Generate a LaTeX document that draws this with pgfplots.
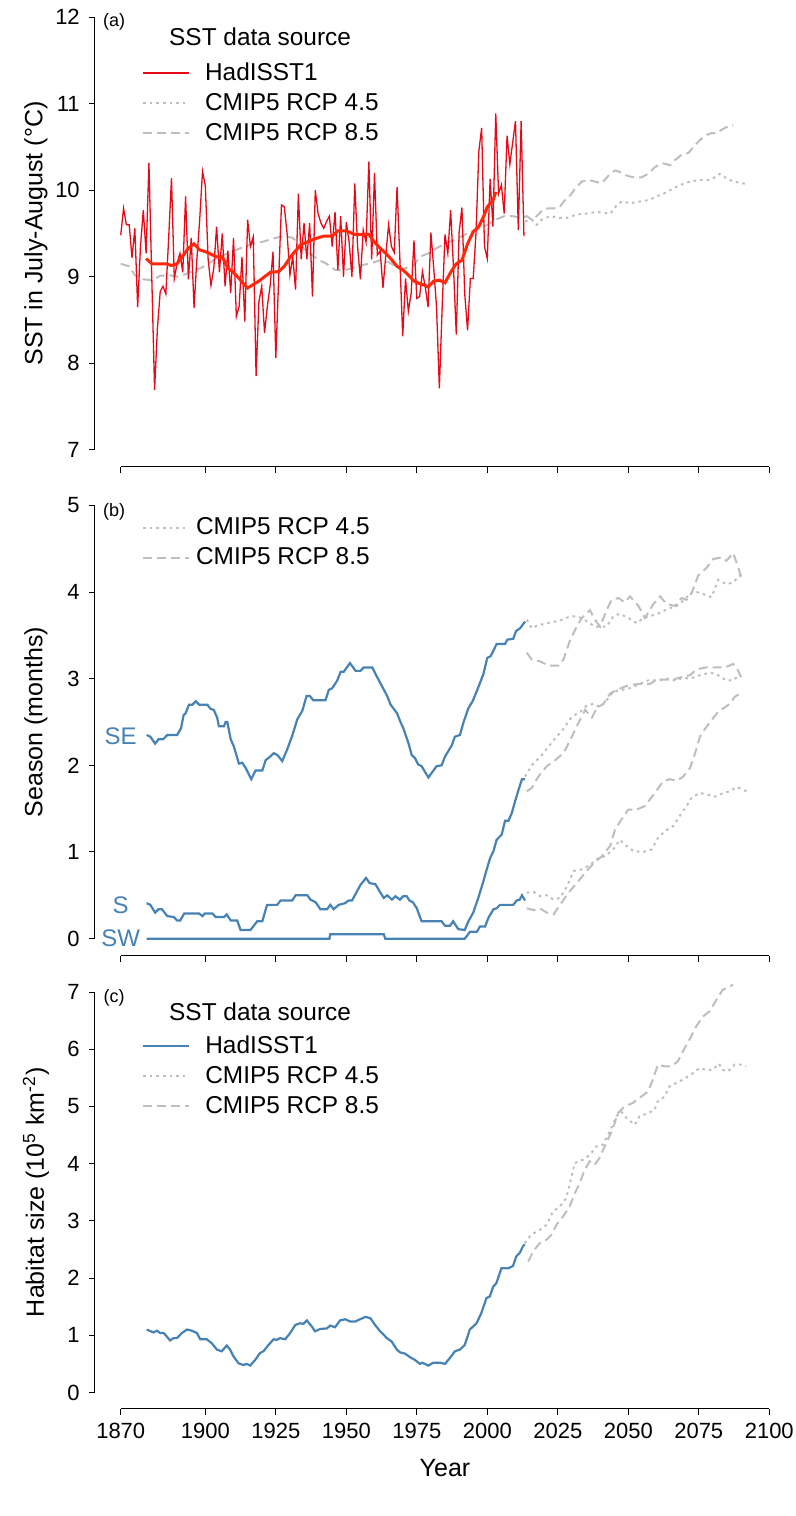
\documentclass[border=0pt]{standalone}
\usepackage{fontspec}
\setmainfont{Liberation Sans}
\usepackage{pgfplots}
\pgfplotsset{compat=1.18}

\definecolor{hadred}{RGB}{230,10,25}
\definecolor{smred}{RGB}{255,40,10}
\definecolor{sblue}{RGB}{70,130,180}
\definecolor{lgray}{RGB}{190,190,190}

\pgfplotsset{
  panel/.style={
    scale only axis, width=350.2pt,
    xmin=1860.8, xmax=2109.2,
    axis x line*=bottom, axis y line*=left,
    axis line style={draw=none},
    clip=false,
    tick align=outside, major tick length=3pt,
    tick style={black, line width=0.5pt},
    xtick={1870,1900,1925,1950,1975,2000,2025,2050,2075,2100},
    ticklabel style={font=\fontsize{11}{13}\selectfont},
    xticklabel style={yshift=-1pt},
    yticklabel style={xshift=-1pt},
    /pgf/number format/assume math mode=true,
    /pgf/number format/1000 sep={},
    label style={font=\fontsize{12.5}{15}\selectfont},
    ylabel style={at={(axis description cs:-0.084,0.5)}, anchor=center},
    legend cell align=left,
    legend image code/.code={\draw[##1] (0pt,0pt) -- (23pt,0pt);},
    legend style={draw=none, fill=none, inner sep=0pt, row sep=1pt,
      font=\fontsize{12.2}{14}\selectfont},
  },
  rcpA/.style={lgray, line width=1pt, dash pattern=on 1.3pt off 2pt},
  rcpB/.style={lgray, line width=1pt, dash pattern=on 4.5pt off 2.5pt},
  obs/.style={sblue, line width=1.1pt},
}

\begin{document}
\begin{tikzpicture}
\useasboundingbox (0,0) rectangle (398pt,758pt);

% ---------------- (a) SST ----------------
\begin{axis}[panel, at={(47.4pt,524.5pt)}, anchor=south west,
  height=233.5pt, ymin=6.8, ymax=12.2, ytick={7,8,9,10,11,12},
  xticklabels={},
  ylabel={SST in July-August (°C)},
  legend style={at={(axis description cs:0.067,0.78)}, anchor=west,
    /tikz/every odd column/.append style={column sep=5.5pt}},
]
\addlegendimage{hadred, line width=1pt}\addlegendentry{HadISST1}
\addlegendimage{rcpA}\addlegendentry{CMIP5 RCP 4.5}
\addlegendimage{rcpB}\addlegendentry{CMIP5 RCP 8.5}

\addplot[rcpB, forget plot] coordinates {
(1870,9.15)(1873,9.12)(1875,9.02)(1878,8.97)(1881,8.96)(1884,9.01)(1887,9.02)
(1890,9.00)(1893,9.03)(1896,9.07)(1899,9.11)(1902,9.17)(1905,9.23)(1908,9.27)
(1911,9.31)(1914,9.35)(1917,9.38)(1921,9.41)(1925,9.45)(1928,9.47)(1931,9.45)
(1934,9.35)(1937,9.27)(1940,9.20)(1943,9.15)(1946,9.08)(1949,9.07)(1952,9.10)
(1955,9.13)(1958,9.15)(1962,9.19)(1965,9.17)(1968,9.11)(1970,9.09)(1974,9.13)
(1976,9.23)(1979,9.27)(1982,9.33)(1985,9.38)(1988,9.42)(1991,9.47)(1994,9.52)
(1997,9.55)(2000,9.60)(2003,9.66)(2006,9.70)(2009,9.70)(2012,9.68)(2014,9.70)
(2015.8,9.66)(2017.5,9.70)(2019.9,9.78)(2021.7,9.79)(2023.5,9.79)(2025.8,9.81)
(2027.6,9.89)(2029.4,9.94)(2031.2,10.02)(2033.5,10.10)(2035.9,10.12)(2038.2,10.10)
(2040.6,10.08)(2043,10.17)(2045.3,10.23)(2047.1,10.21)(2049.4,10.17)(2051.8,10.15)
(2054.7,10.15)(2057.1,10.19)(2059.5,10.27)(2062.4,10.31)(2064.8,10.29)(2066.6,10.35)
(2068.9,10.41)(2071.3,10.43)(2073.1,10.50)(2075.4,10.58)(2077.8,10.64)(2079.5,10.66)
(2081.3,10.66)(2083.1,10.70)(2085.5,10.74)(2087.2,10.75)
};
\addplot[rcpA, forget plot] coordinates {
(2013.4,9.64)(2015.8,9.66)(2017.5,9.60)(2019.3,9.66)(2022.3,9.70)(2025.8,9.68)
(2028.2,9.68)(2031.7,9.72)(2035.3,9.73)(2038.8,9.75)(2043.6,9.73)(2046,9.83)
(2047.7,9.87)(2050.6,9.85)(2054.2,9.87)(2057.7,9.89)(2060.1,9.93)(2062.5,9.96)
(2064.8,10.00)(2068.3,10.06)(2071.9,10.10)(2075.4,10.12)(2079,10.12)(2081.3,10.16)
(2082.5,10.19)(2084.8,10.14)(2087.2,10.10)(2090.7,10.08)(2091.9,10.07)
};
\addplot[hadred, line width=0.65pt, forget plot] coordinates {
(1870,9.48)(1871,9.79)(1872,9.60)(1873,9.60)(1874,9.22)(1875,9.56)(1876,8.65)
(1877,9.35)(1878,9.77)(1879,9.27)(1880,10.32)(1881,9.00)(1882,7.69)(1883,8.40)
(1884,8.83)(1885,8.89)(1886,8.80)(1887,9.45)(1888,10.14)(1889,8.98)(1890,9.16)
(1891,9.27)(1892,9.05)(1893,9.93)(1894,8.97)(1895,9.45)(1896,8.64)(1897,9.20)
(1898,9.66)(1899,10.22)(1900,10.05)(1901,9.20)(1902,8.90)(1903,9.10)(1904,9.58)
(1905,9.05)(1906,9.50)(1907,8.89)(1908,9.30)(1909,8.81)(1910,9.45)(1911,8.54)
(1912,8.66)(1913,9.23)(1914,8.48)(1915,9.66)(1916,9.35)(1917,9.46)(1918,7.85)
(1919,8.71)(1920,8.89)(1921,8.35)(1922,8.66)(1923,8.90)(1924,9.29)(1925,8.06)
(1926,8.97)(1927,9.83)(1928,9.81)(1929,9.50)(1930,9.02)(1931,9.23)(1932,8.85)
(1933,9.96)(1934,9.20)(1935,9.62)(1936,9.20)(1937,9.62)(1938,8.77)(1939,10.00)
(1940,9.73)(1941,9.62)(1942,9.56)(1943,9.64)(1944,9.70)(1945,9.35)(1946,9.75)
(1947,9.08)(1948,9.70)(1949,9.00)(1950,9.63)(1951,9.40)(1952,9.00)(1953,10.08)
(1954,9.35)(1955,8.97)(1956,9.54)(1957,9.40)(1958,10.33)(1959,9.20)(1960,10.20)
(1961,9.25)(1962,9.30)(1963,8.87)(1964,9.25)(1965,9.60)(1966,9.35)(1967,9.28)
(1968,10.04)(1969,9.20)(1970,8.31)(1971,8.98)(1972,8.60)(1973,8.81)(1974,9.42)
(1975,8.75)(1976,8.77)(1977,9.06)(1978,8.88)(1979,8.65)(1980,9.51)(1981,9.10)
(1982,8.65)(1983,7.71)(1984,8.65)(1985,9.49)(1986,9.27)(1987,9.77)(1988,9.11)
(1989,8.33)(1990,9.51)(1991,9.80)(1992,8.80)(1993,8.38)(1994,8.98)(1995,8.98)
(1996,9.51)(1997,10.45)(1998,10.72)(1999,9.35)(2000,9.21)(2001,10.13)(2002,9.58)
(2003,10.89)(2004,9.96)(2005,10.06)(2006,9.73)(2007,10.63)(2008,10.30)(2009,10.55)
(2010,10.80)(2011,9.54)(2012,10.80)(2013,9.47)
};
\addplot[smred, line width=1.5pt, forget plot] coordinates {
(1879,9.21)(1881,9.15)(1884,9.15)(1886,9.15)(1888,9.13)(1890,9.15)(1892,9.24)
(1894,9.33)(1896,9.38)(1898,9.31)(1900,9.29)(1902,9.26)(1904,9.23)(1906,9.23)
(1908,9.10)(1910,9.05)(1912,8.98)(1914,8.90)(1915,8.87)(1917,8.91)(1919,8.95)
(1921,9.00)(1923,9.05)(1926,9.06)(1928,9.12)(1930,9.22)(1932,9.30)(1934,9.37)
(1936,9.40)(1939,9.44)(1942,9.47)(1945,9.47)(1947,9.53)(1950,9.53)(1953,9.49)
(1956,9.49)(1958,9.49)(1960,9.40)(1962,9.33)(1964,9.27)(1966,9.20)(1968,9.12)
(1970,9.08)(1972,9.02)(1974,8.95)(1976,8.92)(1978,8.90)(1979,8.88)(1981,8.95)
(1983,8.96)(1985,8.93)(1987,9.05)(1989,9.15)(1991,9.19)(1993,9.38)(1995,9.52)
(1997,9.58)(1999,9.72)(2000,9.81)(2002,9.88)(2003,9.98)
};
\draw[line width=0.5pt] (axis cs:1870,6.8) -- (axis cs:2100,6.8);
\draw[line width=0.5pt] (axis cs:1860.8,7) -- (axis cs:1860.8,12);
\node[font=\fontsize{9}{10}\selectfont] at (axis description cs:0.0275,0.953) {(a)};
\node[font=\fontsize{12.2}{14}\selectfont] at (axis description cs:0.236,0.921) {SST data source};
\end{axis}

% ---------------- (b) season ----------------
\begin{axis}[panel, at={(47.4pt,280pt)}, anchor=south west,
  height=234pt, ymin=-0.2, ymax=5.2, ytick={0,1,2,3,4,5},
  xticklabels={},
  ylabel={Season (months)},
  legend style={at={(axis description cs:0.067,0.8835)}, anchor=west,
    /tikz/every odd column/.append style={column sep=1pt}},
]
\addlegendimage{rcpA}\addlegendentry{CMIP5 RCP 4.5}
\addlegendimage{rcpB}\addlegendentry{CMIP5 RCP 8.5}

% SE
\addplot[obs, forget plot] coordinates {
(1879.2,2.35)(1880.5,2.33)(1882.2,2.25)(1883.4,2.30)(1885,2.30)(1886.5,2.35)
(1890,2.35)(1891.4,2.43)(1892.3,2.58)(1893,2.60)(1894.2,2.70)(1895.4,2.70)
(1896.6,2.74)(1897.8,2.70)(1900.7,2.70)(1901.9,2.65)(1903,2.64)(1904.2,2.55)
(1904.8,2.45)(1906.6,2.45)(1907.2,2.50)(1907.8,2.50)(1909,2.30)(1910.1,2.22)
(1911.9,2.02)(1913.1,2.03)(1914.3,1.97)(1916.3,1.84)(1917.8,1.94)(1920.2,1.94)
(1921.4,2.06)(1922.6,2.09)(1924.3,2.14)(1925.5,2.12)(1927.3,2.05)(1929.1,2.19)
(1930.8,2.34)(1932.6,2.53)(1934.4,2.63)(1935.9,2.80)(1937.1,2.80)(1938.3,2.75)
(1942.6,2.75)(1943.8,2.87)(1945,2.89)(1946.8,2.98)(1948,3.08)(1949.1,3.08)
(1951.3,3.18)(1953.3,3.09)(1955,3.09)(1956.2,3.13)(1959.2,3.13)(1960.9,3.02)
(1964.5,2.80)(1965.7,2.70)(1968,2.60)(1969.2,2.50)(1970.2,2.43)(1972,2.26)
(1973.2,2.12)(1974.4,2.08)(1975.5,2.01)(1976.7,1.99)(1979.1,1.86)(1980.9,1.94)
(1982,1.99)(1983.8,2.00)(1985,2.10)(1987.4,2.23)(1988.5,2.33)(1990.3,2.35)
(1991.5,2.49)(1993.3,2.66)(1994.8,2.74)(1996.8,2.90)(1998.6,3.05)(2000,3.24)
(2001.2,3.26)(2003.3,3.40)(2006.3,3.40)(2007.1,3.45)(2009.2,3.46)(2010.2,3.55)
(2011.6,3.58)(2013.4,3.66)
};
% S
\addplot[obs, forget plot] coordinates {
(1879.2,0.41)(1880.5,0.39)(1882.2,0.30)(1883.4,0.34)(1884.6,0.34)(1886.5,0.26)
(1888.8,0.25)(1890,0.21)(1891.1,0.21)(1892.5,0.29)(1897.8,0.29)(1899,0.26)
(1899.8,0.29)(1902.5,0.29)(1903.7,0.25)(1906.6,0.25)(1907.6,0.28)(1909,0.21)
(1911.3,0.21)(1912.5,0.10)(1916,0.10)(1918.4,0.20)(1920.2,0.20)(1921.9,0.39)
(1925.5,0.39)(1926.7,0.44)(1930.8,0.44)(1932,0.50)(1936.2,0.50)(1937.3,0.45)
(1939.1,0.42)(1940.8,0.34)(1943.2,0.34)(1944.3,0.39)(1945.5,0.34)(1947.3,0.39)
(1949.6,0.41)(1950.8,0.44)(1952,0.44)(1953.2,0.51)(1955,0.62)(1957,0.70)
(1958.3,0.64)(1960.3,0.63)(1962.1,0.53)(1963.3,0.47)(1964.5,0.50)(1966.2,0.45)
(1967.4,0.49)(1969,0.45)(1970.2,0.49)(1971.4,0.49)(1972.4,0.44)(1973.6,0.42)
(1975,0.35)(1976.7,0.20)(1983.8,0.20)(1985,0.15)(1986.8,0.15)(1987.9,0.20)
(1989.7,0.11)(1992,0.10)(1993.3,0.20)(1995,0.30)(1996.8,0.47)(1998.6,0.66)
(1999.8,0.80)(2001,0.93)(2002.2,1.01)(2003.3,1.14)(2005.1,1.20)(2006.3,1.36)
(2007.5,1.36)(2008.7,1.45)(2009.9,1.59)(2011.1,1.72)(2012.3,1.84)(2013.4,1.84)
};
% SW
\addplot[obs, forget plot] coordinates {
(1879.2,0)(1944,0)(1944.3,0.05)(1963.3,0.05)(1963.8,0)(1992,0)(1993.9,0.08)
(1996.3,0.08)(1997.4,0.14)(1999.2,0.14)(2000.4,0.24)(2002.2,0.34)(2003.3,0.35)
(2004.5,0.39)(2009.2,0.39)(2010.4,0.44)(2011.5,0.45)(2012.3,0.50)(2013.4,0.44)
};
% projections RCP 4.5
\addplot[rcpA, forget plot] coordinates {
(2014,3.68)(2015.8,3.58)(2017.5,3.61)(2021.1,3.64)(2025.8,3.67)(2027.6,3.70)
(2030.6,3.72)(2033.5,3.70)(2038.2,3.60)(2042.3,3.60)(2044.7,3.72)(2047,3.75)
(2050.6,3.69)(2053,3.64)(2055.3,3.70)(2057.7,3.72)(2061.3,3.76)(2063.6,3.80)
(2067.2,3.84)(2069.5,3.90)(2073,4.01)(2075.4,3.99)(2079.5,3.94)(2081.9,4.14)
(2084.8,4.09)(2087.2,4.11)(2089.6,4.19)(2090.7,4.15)
};
\addplot[rcpA, forget plot] coordinates {
(2013.4,1.87)(2015.8,2.00)(2019.9,2.14)(2023.5,2.29)(2027,2.42)(2030,2.56)
(2033,2.62)(2035.3,2.69)(2037.7,2.71)(2040,2.67)(2042.3,2.75)(2044.7,2.85)
(2047.7,2.87)(2050.6,2.89)(2054.2,2.94)(2057.1,2.98)(2060.7,2.98)(2063.6,3.00)
(2066.6,2.98)(2069.5,3.01)(2071.9,3.00)(2075.4,3.04)(2079,3.07)(2081.3,3.05)
(2084.8,2.98)(2087.2,2.98)(2089.6,3.05)
};
\addplot[rcpA, forget plot] coordinates {
(2014,0.53)(2016.4,0.54)(2018.7,0.49)(2021.1,0.50)(2023.5,0.45)(2025.8,0.47)
(2028.2,0.60)(2030.6,0.78)(2033.5,0.80)(2036.4,0.85)(2039.4,0.93)(2041.7,0.95)
(2044.7,1.03)(2047,1.14)(2049.4,1.07)(2051.8,1.01)(2055.3,1.00)(2058.3,1.03)
(2060.7,1.17)(2063,1.24)(2066,1.30)(2068.3,1.42)(2070.7,1.53)(2072.5,1.63)
(2075.4,1.68)(2078.4,1.66)(2080.8,1.64)(2083.7,1.68)(2086,1.70)(2088.4,1.75)
(2092,1.70)
};
% projections RCP 8.5
\addplot[rcpB, forget plot] coordinates {
(2014,3.30)(2015.8,3.22)(2018.7,3.20)(2021.7,3.15)(2025.2,3.15)(2027,3.22)
(2029.4,3.45)(2031.7,3.60)(2033.5,3.70)(2036.4,3.79)(2038.2,3.68)(2040,3.60)
(2042.3,3.79)(2044.1,3.91)(2046.5,3.93)(2048.8,3.88)(2050.6,3.95)(2053.6,3.84)
(2055.9,3.70)(2058.9,3.86)(2061.3,3.95)(2063.6,3.86)(2066.6,3.84)(2068.9,3.93)
(2070.7,3.91)(2072.5,3.99)(2074.8,4.19)(2077.8,4.28)(2080.1,4.38)(2083.1,4.40)
(2084.8,4.36)(2087.2,4.45)(2088.4,4.34)(2090.1,4.17)
};
\addplot[rcpB, forget plot] coordinates {
(2014,1.70)(2015.8,1.74)(2018.1,1.87)(2021.1,1.99)(2024.1,2.06)(2027,2.14)
(2029.4,2.29)(2031.7,2.45)(2034.7,2.64)(2037.1,2.55)(2038.8,2.66)(2041.2,2.71)
(2043.6,2.83)(2045.9,2.87)(2048.9,2.91)(2051.2,2.93)(2054.2,2.94)(2057.7,2.94)
(2060.1,2.99)(2063.6,2.99)(2066,2.99)(2069,3.02)(2071.9,3.04)(2074.3,3.11)
(2077.8,3.13)(2081.3,3.13)(2084.3,3.13)(2087.2,3.17)(2089,3.09)(2090.1,3.01)
};
\addplot[rcpB, forget plot] coordinates {
(2014,0.35)(2016.4,0.33)(2018.7,0.35)(2021.1,0.30)(2023.5,0.28)(2025.8,0.39)
(2028.8,0.53)(2031.7,0.64)(2034.7,0.76)(2037.7,0.87)(2040.6,0.95)(2043.6,1.07)
(2045.3,1.26)(2047.7,1.38)(2050,1.49)(2053,1.49)(2055.9,1.53)(2058.9,1.66)
(2062.5,1.82)(2064.8,1.84)(2067.2,1.82)(2069.5,1.87)(2071.9,1.97)(2073.7,2.14)
(2075.4,2.33)(2077.2,2.42)(2079.5,2.52)(2081.9,2.62)(2084.3,2.67)(2086,2.71)
(2087.8,2.79)(2089.6,2.83)
};
\draw[line width=0.5pt] (axis cs:1870,-0.2) -- (axis cs:2100,-0.2);
\draw[line width=0.5pt] (axis cs:1860.8,0) -- (axis cs:1860.8,5);
\node[font=\fontsize{9}{10}\selectfont] at (axis description cs:0.0275,0.949) {(b)};
\node[sblue, font=\fontsize{12}{14}\selectfont] at (axis cs:1870,2.33) {SE};
\node[sblue, font=\fontsize{12}{14}\selectfont] at (axis cs:1870,0.39) {S};
\node[sblue, font=\fontsize{12}{14}\selectfont] at (axis cs:1870,0) {SW};
\end{axis}

% ---------------- (c) habitat ----------------
\begin{axis}[panel, at={(47.4pt,53.75pt)}, anchor=south west,
  height=216.25pt, ymin=-0.28, ymax=7.28, ytick={0,1,2,3,4,5,6,7},
  xlabel={Year},
  xlabel style={at={(axis description cs:0.5,-0.137)}, anchor=center},
  ylabel={Habitat size (10\textsuperscript{5} km\textsuperscript{-2})},
  legend style={at={(axis description cs:0.067,0.769)}, anchor=west,
    /tikz/every odd column/.append style={column sep=5.5pt}},
]
\addlegendimage{obs}\addlegendentry{HadISST1}
\addlegendimage{rcpA}\addlegendentry{CMIP5 RCP 4.5}
\addlegendimage{rcpB}\addlegendentry{CMIP5 RCP 8.5}

\addplot[obs, forget plot] coordinates {
(1879.2,1.10)(1881.6,1.05)(1882.8,1.08)(1884,1.04)(1885.2,1.04)(1886.3,0.98)
(1887.5,0.91)(1888.7,0.95)(1889.9,0.95)(1891.7,1.04)(1893.5,1.10)(1895.2,1.08)
(1897,1.04)(1898.2,0.93)(1900.5,0.93)(1902.3,0.86)(1904.1,0.75)(1905.8,0.72)
(1907.6,0.82)(1908.8,0.75)(1910,0.63)(1911.8,0.51)(1913.5,0.48)(1914.7,0.50)
(1915.9,0.47)(1917.7,0.57)(1919.4,0.69)(1920.6,0.72)(1922.4,0.83)(1924.2,0.93)
(1925.3,0.92)(1926.5,0.95)(1928.3,0.93)(1930.1,1.04)(1931.9,1.18)(1933.6,1.21)
(1934.8,1.20)(1936,1.26)(1937.8,1.15)(1938.9,1.07)(1940.7,1.11)(1943.1,1.12)
(1944.3,1.17)(1946,1.14)(1947.8,1.26)(1949.6,1.28)(1951.4,1.24)(1953.1,1.24)
(1954.9,1.28)(1956.7,1.32)(1958.5,1.30)(1960.2,1.18)(1962,1.07)(1964.4,0.95)
(1966.1,0.89)(1967.9,0.75)(1969.1,0.70)(1970.8,0.68)(1972.5,0.62)(1974.3,0.57)
(1976.1,0.50)(1977,0.52)(1979.1,0.47)(1980.8,0.52)(1983.2,0.52)(1985,0.50)
(1986.7,0.60)(1988.5,0.72)(1990.3,0.75)(1992,0.83)(1993.8,1.10)(1996.2,1.21)
(1997.9,1.39)(1999.7,1.65)(2000.9,1.68)(2002.1,1.85)(2003.2,1.91)(2005,2.17)
(2007.4,2.17)(2009.1,2.21)(2010.3,2.38)(2011.5,2.44)(2012.7,2.56)(2013.3,2.59)
};
\addplot[rcpA, forget plot] coordinates {
(2013.3,2.61)(2015.6,2.76)(2018.6,2.84)(2021,2.93)(2023.3,3.16)(2025.7,3.25)
(2028,3.40)(2029.2,3.63)(2031,4.01)(2034,4.07)(2036.3,4.15)(2038.7,4.30)
(2041,4.33)(2043.4,4.56)(2045.8,4.83)(2047.5,4.91)(2049.3,4.80)(2052.3,4.68)
(2054,4.83)(2057,4.88)(2059.3,4.94)(2060.5,5.09)(2062.9,5.17)(2064.6,5.35)
(2067,5.41)(2069.4,5.47)(2071.1,5.52)(2072.9,5.58)(2075.3,5.67)(2077.6,5.64)
(2080,5.64)(2082.1,5.75)(2083.5,5.64)(2085.3,5.61)(2087.7,5.73)(2090.1,5.73)
(2091.8,5.70)
};
\addplot[rcpB, forget plot] coordinates {
(2014.5,2.29)(2016.3,2.47)(2018.6,2.61)(2021,2.67)(2022.8,2.76)(2024.5,2.93)
(2026.9,3.08)(2029.2,3.25)(2031,3.48)(2032.8,3.66)(2034.5,3.89)(2036.3,4.04)
(2038.1,3.98)(2039.8,4.10)(2042.2,4.36)(2044.6,4.62)(2046.3,4.88)(2048.7,5.00)
(2051.6,5.06)(2054,5.15)(2057,5.26)(2058.7,5.47)(2060.5,5.73)(2062.9,5.70)
(2065.2,5.70)(2067.6,5.79)(2070,6.02)(2072.3,6.22)(2074.1,6.40)(2076.4,6.57)
(2078.8,6.66)(2081.2,6.86)(2083.5,7.04)(2085.9,7.09)(2087.1,7.13)
};
\draw[line width=0.5pt] (axis cs:1870,-0.28) -- (axis cs:2100,-0.28);
\draw[line width=0.5pt] (axis cs:1860.8,0) -- (axis cs:1860.8,7);
\node[font=\fontsize{9}{10}\selectfont] at (axis description cs:0.0275,0.949) {(c)};
\node[font=\fontsize{12.2}{14}\selectfont] at (axis description cs:0.236,0.917) {SST data source};
\end{axis}
\end{tikzpicture}
\end{document}
